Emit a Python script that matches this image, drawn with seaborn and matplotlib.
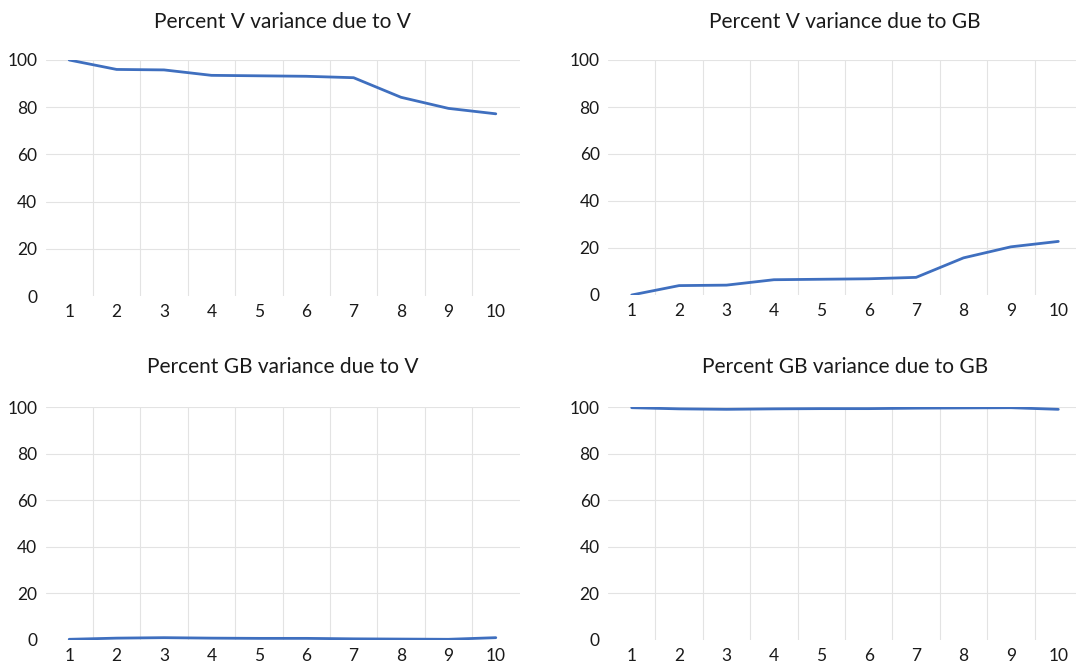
import matplotlib
matplotlib.use("Agg")
import matplotlib.pyplot as plt
import seaborn as sns
import numpy as np
import pandas as pd

# forecast horizon (periods)
periods = [1, 2, 3, 4, 5, 6, 7, 8, 9, 10]

# variance decomposition shares
v_due_to_v = [100.0, 96.0, 95.8, 93.5, 93.3, 93.1, 92.5, 84.2, 79.5, 77.2]
v_due_to_gb = [0.0, 4.0, 4.2, 6.5, 6.7, 6.9, 7.5, 15.8, 20.5, 22.8]
gb_due_to_v = [0.3, 0.8, 1.0, 0.8, 0.7, 0.7, 0.5, 0.4, 0.3, 1.0]
gb_due_to_gb = [99.7, 99.2, 99.0, 99.2, 99.3, 99.3, 99.5, 99.6, 99.7, 99.0]

titles = ["Percent V variance due to V", "Percent V variance due to GB",
          "Percent GB variance due to V", "Percent GB variance due to GB"]
series = [v_due_to_v, v_due_to_gb, gb_due_to_v, gb_due_to_gb]

sns.set_theme(style="white")
plt.rcParams['font.family'] = ['Lato', 'DejaVu Sans']

W, H = 1076, 668
fig = plt.figure(figsize=(W / 100, H / 100), dpi=100)

# plot areas in pixels: left, top(=100), right, bottom(=0)
boxes = [(45.5, 60, 519.5, 296), (608, 60, 1082, 295),
         (45.5, 407, 519.5, 640), (608, 407, 1082, 640)]

for (l, t, r, b), title, vals in zip(boxes, titles, series):
    ax = fig.add_axes([l / W, (H - b) / H, (r - l) / W, (b - t) / H])
    df = pd.DataFrame({"period": periods, "pct": vals})
    sns.lineplot(data=df, x="period", y="pct", ax=ax, color="#3F6FBF", linewidth=2)
    ax.set_xlim(0.5, 10.5)
    ax.set_ylim(0, 100)
    ax.set_xticks(periods)
    ax.set_xticks(np.arange(1.5, 10, 1), minor=True)
    ax.set_yticks(range(0, 101, 20))
    ax.set_xlabel("")
    ax.set_ylabel("")
    for s in ax.spines.values():
        s.set_visible(False)
    ax.grid(True, axis="y", which="major", color="#E3E3E3", linewidth=0.8)
    ax.grid(True, axis="x", which="minor", color="#E3E3E3", linewidth=0.8)
    ax.grid(False, axis="x", which="major")
    ax.get_ygridlines()[0].set_visible(False)
    ax.tick_params(axis="both", which="both", length=0, labelsize=12.5, colors="#1a1a1a")
    ax.tick_params(axis="x", pad=6)
    ax.tick_params(axis="y", pad=6)
    ax.set_axisbelow(True)
    pad = 23 if t < 100 else 24.5
    ax.set_title(title, fontsize=15, pad=pad, color="#1a1a1a")

fig.savefig("out.png", dpi=100)
